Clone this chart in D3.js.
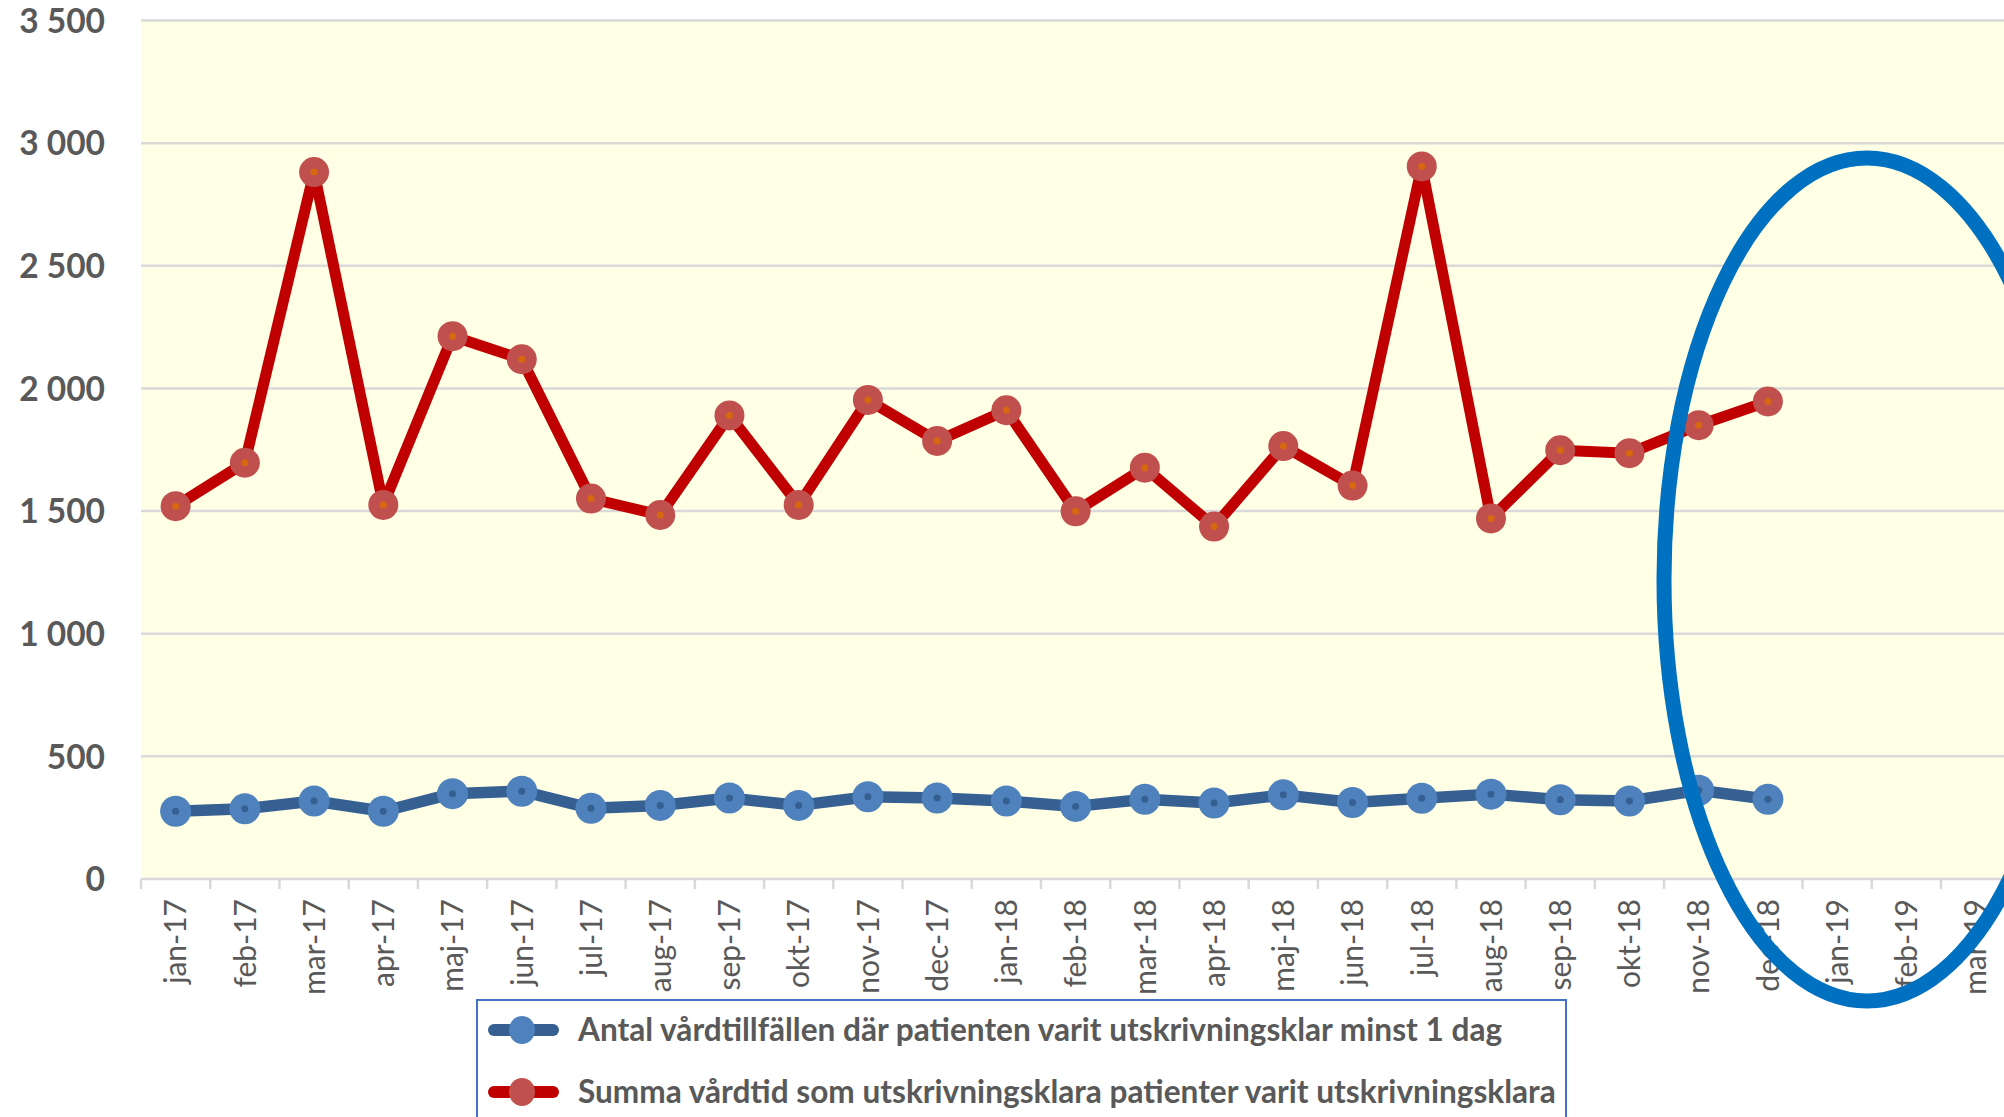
<!DOCTYPE html>
<html>
<head>
<meta charset="utf-8">
<script src="https://cdn.jsdelivr.net/npm/d3@7"></script>
<style>
  html, body { margin: 0; padding: 0; background: #ffffff; }
  svg { display: block; }
</style>
</head>
<body>
<svg id="chart" width="2004" height="1117"></svg>
<script>
// ---- data ----
const categories = ["jan-17","feb-17","mar-17","apr-17","maj-17","jun-17","jul-17","aug-17","sep-17","okt-17","nov-17","dec-17",
                    "jan-18","feb-18","mar-18","apr-18","maj-18","jun-18","jul-18","aug-18","sep-18","okt-18","nov-18","dec-18",
                    "jan-19","feb-19","mar-19"];
const antalValues = [276, 286, 318, 276, 348, 358, 288, 300, 330, 300, 335, 330,
                     318, 296, 325, 310, 343, 312, 329, 346, 323, 318, 362, 325];
const summaValues = [1520, 1697, 2882, 1525, 2213, 2119, 1551, 1484, 1890, 1525, 1953, 1786,
                     1911, 1499, 1677, 1437, 1765, 1604, 2905, 1470, 1748, 1736, 1850, 1947];
const yTicks = [0, 500, 1000, 1500, 2000, 2500, 3000, 3500];
const seriesNames = ["Antal vårdtillfällen där patienten varit utskrivningsklar minst 1 dag",
                     "Summa vårdtid som utskrivningsklara patienter varit utskrivningsklara"];

// ---- layout ----
const svg = d3.select("#chart");
const plotLeft = 141, plotTop = 20.5, plotBottom = 879, band = 69.23;
const x = d3.scaleBand().domain(categories).range([plotLeft, plotLeft + band * categories.length]).padding(0);
const y = d3.scaleLinear().domain([0, 3500]).range([plotBottom, plotTop]);
const fmt = v => d3.format(",")(v).replace(/,/g, " ");
const textColor = "#595959";
const fontFam = "Lato, 'Open Sans', 'DejaVu Sans', sans-serif";

// plot background
svg.append("rect").attr("x", plotLeft).attr("y", y(3500)).attr("width", 2004 - plotLeft)
   .attr("height", y(0) - y(3500)).attr("fill", "#ffffe6");

// gridlines
svg.append("g").selectAll("line").data(yTicks.filter(d => d > 0)).join("line")
  .attr("x1", plotLeft).attr("x2", 2004).attr("y1", d => y(d)).attr("y2", d => y(d))
  .attr("stroke", "#d9d9d9").attr("stroke-width", 2.5);

// y axis labels
const yAxis = d3.axisLeft(y).tickValues(yTicks).tickFormat(fmt).tickSize(0).tickPadding(0);
const gy = svg.append("g").attr("transform", "translate(105,0)").call(yAxis);
gy.select(".domain").remove();
gy.selectAll("text").attr("font-family", fontFam).attr("font-weight", "bold")
  .attr("font-size", 33.5).attr("fill", textColor).attr("text-anchor", "end").attr("dy", "0.35em").attr("x", 0);

// x axis
const xAxis = d3.axisBottom(x).tickSize(0).tickPadding(0);
const gx = svg.append("g").attr("transform", `translate(0,${plotBottom})`).call(xAxis);
gx.select(".domain").attr("stroke", "#d9d9d9").attr("stroke-width", 2.5)
  .attr("d", `M${plotLeft},0H2004`);
gx.selectAll(".tick line").remove();
gx.selectAll(".tick text")
  .attr("font-family", fontFam).attr("font-size", 30).attr("fill", textColor)
  .attr("text-anchor", "end").attr("transform", "rotate(-90)")
  .attr("x", -20).attr("y", 0).attr("dy", "0.36em");
// boundary ticks
svg.append("g").selectAll("line").data(categories).join("line")
  .attr("x1", d => x(d)).attr("x2", d => x(d)).attr("y1", plotBottom).attr("y2", plotBottom + 10)
  .attr("stroke", "#d9d9d9").attr("stroke-width", 2.5);

// series
function drawSeries(values, lineColor, lineWidth, markerFill, markerR, dotColor) {
  const pts = values.map((v, i) => [x(categories[i]) + x.bandwidth() / 2, y(v)]);
  svg.append("path").attr("d", d3.line()(pts)).attr("fill", "none")
    .attr("stroke", lineColor).attr("stroke-width", lineWidth).attr("stroke-linejoin", "round");
  const g = svg.append("g");
  g.selectAll("circle.m").data(pts).join("circle").attr("class", "m")
    .attr("cx", d => d[0]).attr("cy", d => d[1]).attr("r", markerR).attr("fill", markerFill);
  g.selectAll("circle.d").data(pts).join("circle").attr("class", "d")
    .attr("cx", d => d[0]).attr("cy", d => d[1]).attr("r", 3.5).attr("fill", dotColor);
}
drawSeries(summaValues, "#c00000", 11, "#c0504d", 15, "#d8680f");
drawSeries(antalValues, "#366092", 11.5, "#4f81bd", 15.5, "#365f91");

// legend
const lg = svg.append("g");
lg.append("rect").attr("x", 477).attr("y", 1000).attr("width", 1089).attr("height", 140)
  .attr("fill", "#ffffff").attr("stroke", "#4472c4").attr("stroke-width", 2);
const legendItems = [
  {name: seriesNames[0], line: "#366092", fill: "#4f81bd", cy: 1030},
  {name: seriesNames[1], line: "#c00000", fill: "#c0504d", cy: 1092}
];
legendItems.forEach(it => {
  lg.append("line").attr("x1", 494).attr("x2", 553).attr("y1", it.cy).attr("y2", it.cy)
    .attr("stroke", it.line).attr("stroke-width", 12).attr("stroke-linecap", "round");
  lg.append("ellipse").attr("cx", 522).attr("cy", it.cy).attr("rx", 13).attr("ry", 14).attr("fill", it.fill);
  lg.append("text").attr("x", 578).attr("y", it.cy).attr("dy", "0.35em")
    .attr("font-family", fontFam).attr("font-weight", "bold").attr("font-size", 31.6)
    .attr("fill", textColor).text(it.name);
});

// annotation ellipse
svg.append("ellipse").attr("cx", 1867).attr("cy", 579.5).attr("rx", 203).attr("ry", 421.5)
  .attr("fill", "none").attr("stroke", "#0070c0").attr("stroke-width", 15);
</script>
</body>
</html>
